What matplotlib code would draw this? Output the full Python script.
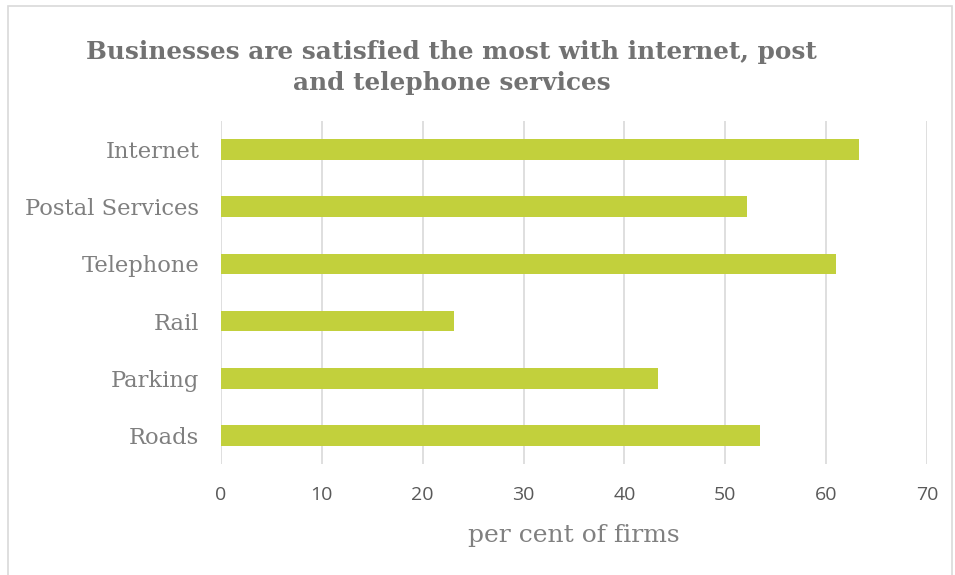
import matplotlib.pyplot as plt
from matplotlib.patches import Rectangle

# Categories (top to bottom as shown) and share of firms satisfied
categories = ['Internet', 'Postal Services', 'Telephone', 'Rail', 'Parking', 'Roads']
values = [63.3, 52.2, 61.0, 23.1, 43.3, 53.4]
x_ticks = [0, 10, 20, 30, 40, 50, 60, 70]

title = 'Businesses are satisfied the most with internet, post\nand telephone services'
x_label = 'per cent of firms'


def draw_chart():
    fig = plt.figure(figsize=(9.55, 5.75), dpi=100)
    ax = fig.add_axes([0.2314, 0.193, 0.9707 - 0.2314, 0.7896 - 0.193])

    # bars are drawn bottom-up, so reverse the lists
    pos = list(range(len(categories)))
    ax.barh(pos, values[::-1], height=0.36, color='#c2d03c', zorder=2)

    ax.set_ylim(-0.5, len(categories) - 0.5)
    ax.set_xlim(0, 70)
    ax.set_yticks(pos)
    ax.set_yticklabels(categories[::-1], family='DejaVu Serif', fontsize=16.3,
                       color='#7f7f7f')
    ax.set_xticks(x_ticks)
    ax.set_xticklabels([str(t) for t in x_ticks], family='Open Sans',
                       fontsize=14, color='#595959')
    ax.tick_params(axis='y', length=0, pad=15.5)
    ax.tick_params(axis='x', length=0, pad=16)

    # vertical gridlines only
    ax.grid(axis='x', color='#d9d9d9', linewidth=1.2, zorder=0)
    for s in ax.spines.values():
        s.set_visible(False)

    ax.set_xlabel(x_label, family='DejaVu Serif', fontsize=18,
                  color='#808080', labelpad=14)

    fig.text(0.473, 0.883, title, ha='center', va='center',
             family='DejaVu Serif', fontweight='bold', fontsize=17.8,
             color='#727272', linespacing=1.35)

    # light outer chart border
    fig.patches.append(Rectangle((8 / 955, -0.05), 944 / 955, 1.05 - 6 / 575,
                                 transform=fig.transFigure, fill=False,
                                 edgecolor='#d9d9d9', linewidth=1.2))

    fig.savefig('out.png', dpi=100)


if __name__ == '__main__':
    draw_chart()
